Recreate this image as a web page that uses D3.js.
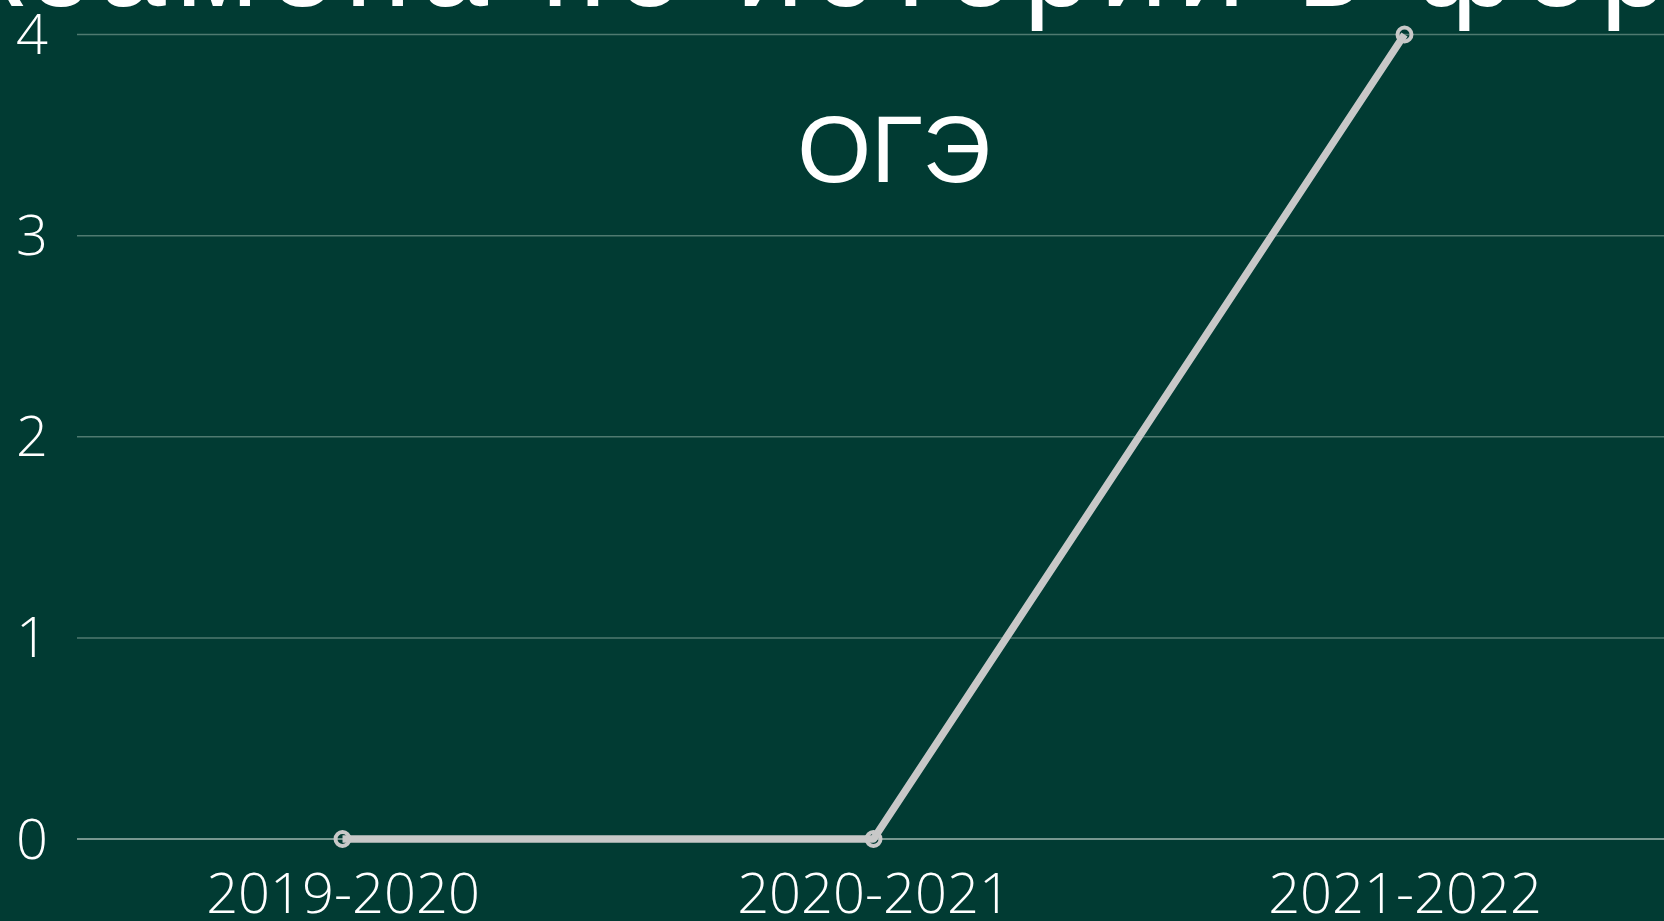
<!DOCTYPE html>
<html>
<head>
<meta charset="utf-8">
<script src="https://cdn.jsdelivr.net/npm/d3@7"></script>
<style>
  html, body { margin: 0; padding: 0; background: #013b33; overflow: hidden; }
  svg { display: block; }
</style>
</head>
<body>
<svg id="chart" width="1664" height="921"></svg>
<script>
const categories = ["2019-2020", "2020-2021", "2021-2022"];
const values = [0, 0, 4];
const yTicks = [0, 1, 2, 3, 4];
const titleLines = ["экзамена по истории в форме", "ОГЭ"];

const W = 1664, H = 921;
const svg = d3.select("#chart");
svg.append("rect").attr("width", W).attr("height", H).attr("fill", "#013b33");

const x = d3.scalePoint().domain(categories).range([77, 1670]).padding(0.5);
const y = d3.scaleLinear().domain([0, 4]).range([839, 34.5]);

// gridlines
const grid = svg.append("g");
grid.selectAll("line").data(yTicks).join("line")
  .attr("x1", 77).attr("x2", W)
  .attr("y1", d => y(d)).attr("y2", d => y(d))
  .attr("stroke", d => d === 0 ? "#9fb7b1" : "#4f7a70")
  .attr("stroke-width", 1.5);

// y axis labels
const yAxis = d3.axisLeft(y).tickValues(yTicks).tickSize(0).tickPadding(0).tickFormat(d3.format("d"));
const yg = svg.append("g").attr("transform", "translate(48,0)").call(yAxis);
yg.select(".domain").remove();
yg.selectAll("text")
  .attr("fill", "#ffffff")
  .attr("font-family", "'Open Sans', 'Noto Sans', sans-serif")
  .attr("font-weight", 300)
  .attr("font-size", 56)
  .attr("dy", "0.34em");

// x axis labels
const xAxis = d3.axisBottom(x).tickSize(0).tickPadding(0);
const xg = svg.append("g").attr("transform", "translate(0,913)").call(xAxis);
xg.select(".domain").remove();
xg.selectAll("text")
  .attr("fill", "#ffffff")
  .attr("font-family", "'Open Sans', 'Noto Sans', sans-serif")
  .attr("font-weight", 300)
  .attr("font-size", 56)
  .attr("dy", 0);

// line
const line = d3.line().x((d, i) => x(categories[i])).y(d => y(d));
svg.append("path").datum(values)
  .attr("d", line)
  .attr("fill", "none")
  .attr("stroke", "#c8c8c8")
  .attr("stroke-width", 7.5)
  .attr("stroke-linejoin", "round");

svg.append("g").selectAll("circle").data(values).join("circle")
  .attr("cx", (d, i) => x(categories[i]))
  .attr("cy", d => y(d))
  .attr("r", 7)
  .attr("fill", "none")
  .attr("stroke", "#c8c8c8")
  .attr("stroke-width", 4);

// title
svg.append("text")
  .attr("x", -101).attr("y", 6)
  .attr("fill", "#ffffff")
  .attr("font-family", "'Liberation Sans', Arial, sans-serif")
  .attr("font-size", 120)
  .attr("letter-spacing", 10)
  .text(titleLines[0]);

svg.append("text")
  .attr("x", 894).attr("y", 182)
  .attr("text-anchor", "middle")
  .attr("fill", "#ffffff")
  .attr("font-family", "'Liberation Sans', Arial, sans-serif")
  .attr("font-size", 95)
  .text(titleLines[1]);
</script>
</body>
</html>
